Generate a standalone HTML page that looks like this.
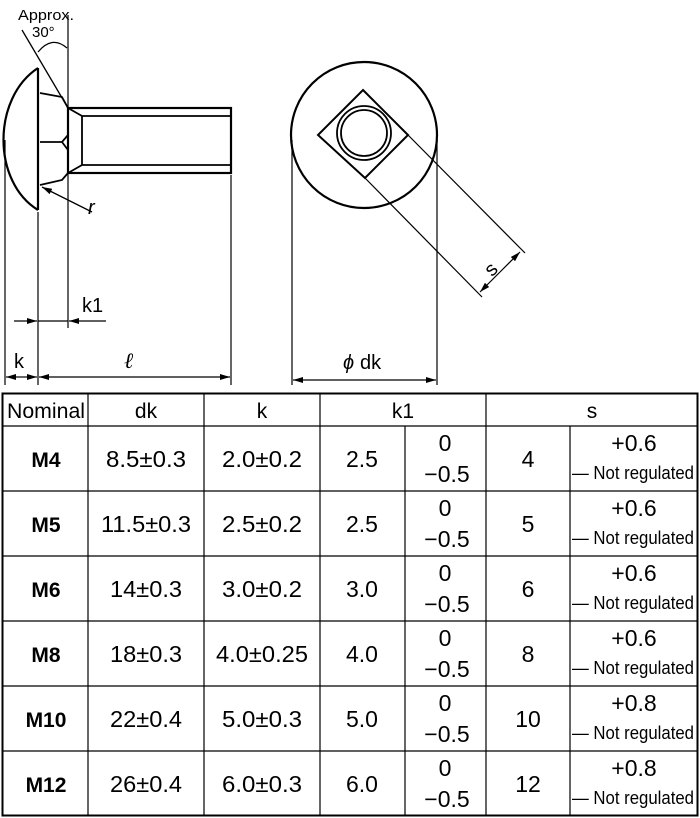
<!DOCTYPE html>
<html><head><meta charset="utf-8"><style>body{margin:0;background:#fff}svg{display:block}</style></head>
<body>
<svg width="700" height="818" viewBox="0 0 700 818" xmlns="http://www.w3.org/2000/svg" font-family="Liberation Sans, sans-serif">
<defs>
<marker id="a" markerWidth="10" markerHeight="6" refX="10" refY="3" orient="auto" markerUnits="userSpaceOnUse"><path d="M0,0 L10,3 L0,6 z" fill="#000"/></marker>
</defs>
<g fill="none" stroke="#000">
<path d="M38,68 C-8,98 -8,182 38,210" stroke-width="2.2"/>
<line x1="38" y1="68" x2="38" y2="210" stroke-width="2.2"/>
<path d="M40,93 L62,97 L68,108 M40,142 L62,142 L68,135 M62,142 L68,150 M40,185 L62,180 L68,173" stroke-width="1.8"/>
<rect x="68" y="108" width="163" height="65" stroke-width="2.2"/>
<path d="M68,108 L82,116 L82,165 L68,173 M82,116 L231,116 M82,165 L231,165" stroke-width="1.8"/>
<line x1="22" y1="30" x2="68" y2="108" stroke-width="1.3"/>
<path d="M38,52 Q52,35 67,48" stroke-width="1.2"/>
<line x1="68" y1="15" x2="68" y2="328" stroke-width="1.2"/>
<line x1="5" y1="140" x2="5" y2="385" stroke-width="1.2"/>
<line x1="38" y1="212" x2="38" y2="385" stroke-width="1.2"/>
<line x1="231" y1="175" x2="231" y2="385" stroke-width="1.2"/>
<line x1="14" y1="321" x2="37" y2="321" stroke-width="1.2" marker-end="url(#a)"/>
<line x1="106" y1="321" x2="69" y2="321" stroke-width="1.2" marker-end="url(#a)"/>
<line x1="38" y1="321" x2="68" y2="321" stroke-width="1.2"/>
<line x1="21" y1="377" x2="6" y2="377" stroke-width="1.2" marker-end="url(#a)"/>
<line x1="21" y1="377" x2="37" y2="377" stroke-width="1.2" marker-end="url(#a)"/>
<line x1="130" y1="377" x2="39" y2="377" stroke-width="1.2" marker-end="url(#a)"/>
<line x1="130" y1="377" x2="230" y2="377" stroke-width="1.2" marker-end="url(#a)"/>
<line x1="92" y1="212" x2="42" y2="187" stroke-width="1.3" marker-end="url(#a)"/>
<circle cx="364" cy="135" r="73" stroke-width="2.2"/>
<path d="M363,90 L408,135 L365,178 L318,135 Z" stroke-width="2"/>
<circle cx="364" cy="133" r="27" stroke-width="1.8"/>
<circle cx="364" cy="133" r="23" stroke-width="1.8"/>
<line x1="408" y1="135" x2="525" y2="253" stroke-width="1.2"/>
<line x1="365" y1="178" x2="482" y2="297" stroke-width="1.2"/>
<line x1="500" y1="272" x2="520" y2="252" stroke-width="1.2" marker-end="url(#a)"/>
<line x1="500" y1="272" x2="480" y2="292" stroke-width="1.2" marker-end="url(#a)"/>
<line x1="292" y1="140" x2="292" y2="385" stroke-width="1.2"/>
<line x1="437" y1="140" x2="437" y2="385" stroke-width="1.2"/>
<line x1="365" y1="380" x2="293" y2="380" stroke-width="1.2" marker-end="url(#a)"/>
<line x1="365" y1="380" x2="436" y2="380" stroke-width="1.2" marker-end="url(#a)"/>
</g>
<g font-size="20" fill="#000">
<text x="18" y="20" font-size="15" textLength="56" lengthAdjust="spacingAndGlyphs">Approx.</text>
<text x="32" y="37" font-size="15">30°</text>
<text x="88" y="214" font-style="italic">r</text>
<text x="82" y="312">k1</text>
<text x="14" y="368">k</text>
<text x="124" y="368" font-style="italic" font-family="Liberation Serif, serif" font-size="22">ℓ</text>
<text x="484" y="274" transform="rotate(-45 492 266)">s</text>
<text x="343" y="369" font-style="italic">ϕ</text><text x="360" y="369">dk</text>
</g>
<g stroke="#000" fill="none">
<rect x="2.5" y="393.5" width="695" height="422" stroke-width="2"/>
<g stroke-width="1.2">
<line x1="2" y1="426" x2="698" y2="426"/>
<line x1="2" y1="491" x2="698" y2="491"/>
<line x1="2" y1="556" x2="698" y2="556"/>
<line x1="2" y1="621" x2="698" y2="621"/>
<line x1="2" y1="686" x2="698" y2="686"/>
<line x1="2" y1="751" x2="698" y2="751"/>
<line x1="88" y1="393" x2="88" y2="816"/>
<line x1="204" y1="393" x2="204" y2="816"/>
<line x1="320" y1="393" x2="320" y2="816"/>
<line x1="405" y1="426" x2="405" y2="816"/>
<line x1="486" y1="393" x2="486" y2="816"/>
<line x1="570" y1="426" x2="570" y2="816"/>
</g>
</g>
<g font-size="21" fill="#000" text-anchor="middle">
<text x="46" y="418" textLength="78" lengthAdjust="spacingAndGlyphs">Nominal</text>
<text x="146" y="418">dk</text><text x="262" y="418">k</text><text x="403" y="418">k1</text><text x="592" y="418">s</text>
</g>
<g font-size="23" fill="#000" text-anchor="middle">
<g transform="translate(0,426)">
<text x="46" y="41" font-weight="bold" font-size="21">M4</text><text x="146" y="41" textLength="80" lengthAdjust="spacingAndGlyphs">8.5±0.3</text><text x="262" y="41" textLength="80" lengthAdjust="spacingAndGlyphs">2.0±0.2</text><text x="362" y="41">2.5</text><text x="445" y="25">0</text><text x="447" y="56">−0.5</text><text x="528" y="41">4</text><text x="634" y="25">+0.6</text>
<text x="572" y="53" text-anchor="start" font-size="18" textLength="122" lengthAdjust="spacingAndGlyphs">— Not regulated</text></g>
<g transform="translate(0,491)">
<text x="46" y="41" font-weight="bold" font-size="21">M5</text><text x="146" y="41" textLength="90" lengthAdjust="spacingAndGlyphs">11.5±0.3</text><text x="262" y="41" textLength="80" lengthAdjust="spacingAndGlyphs">2.5±0.2</text><text x="362" y="41">2.5</text><text x="445" y="25">0</text><text x="447" y="56">−0.5</text><text x="528" y="41">5</text><text x="634" y="25">+0.6</text>
<text x="572" y="53" text-anchor="start" font-size="18" textLength="122" lengthAdjust="spacingAndGlyphs">— Not regulated</text></g>
<g transform="translate(0,556)">
<text x="46" y="41" font-weight="bold" font-size="21">M6</text><text x="146" y="41" textLength="72" lengthAdjust="spacingAndGlyphs">14±0.3</text><text x="262" y="41" textLength="80" lengthAdjust="spacingAndGlyphs">3.0±0.2</text><text x="362" y="41">3.0</text><text x="445" y="25">0</text><text x="447" y="56">−0.5</text><text x="528" y="41">6</text><text x="634" y="25">+0.6</text>
<text x="572" y="53" text-anchor="start" font-size="18" textLength="122" lengthAdjust="spacingAndGlyphs">— Not regulated</text></g>
<g transform="translate(0,621)">
<text x="46" y="41" font-weight="bold" font-size="21">M8</text><text x="146" y="41" textLength="72" lengthAdjust="spacingAndGlyphs">18±0.3</text><text x="262" y="41" textLength="92" lengthAdjust="spacingAndGlyphs">4.0±0.25</text><text x="362" y="41">4.0</text><text x="445" y="25">0</text><text x="447" y="56">−0.5</text><text x="528" y="41">8</text><text x="634" y="25">+0.6</text>
<text x="572" y="53" text-anchor="start" font-size="18" textLength="122" lengthAdjust="spacingAndGlyphs">— Not regulated</text></g>
<g transform="translate(0,686)">
<text x="46" y="41" font-weight="bold" font-size="21">M10</text><text x="146" y="41" textLength="72" lengthAdjust="spacingAndGlyphs">22±0.4</text><text x="262" y="41" textLength="80" lengthAdjust="spacingAndGlyphs">5.0±0.3</text><text x="362" y="41">5.0</text><text x="445" y="25">0</text><text x="447" y="56">−0.5</text><text x="528" y="41">10</text><text x="634" y="25">+0.8</text>
<text x="572" y="53" text-anchor="start" font-size="18" textLength="122" lengthAdjust="spacingAndGlyphs">— Not regulated</text></g>
<g transform="translate(0,751)">
<text x="46" y="41" font-weight="bold" font-size="21">M12</text><text x="146" y="41" textLength="72" lengthAdjust="spacingAndGlyphs">26±0.4</text><text x="262" y="41" textLength="80" lengthAdjust="spacingAndGlyphs">6.0±0.3</text><text x="362" y="41">6.0</text><text x="445" y="25">0</text><text x="447" y="56">−0.5</text><text x="528" y="41">12</text><text x="634" y="25">+0.8</text>
<text x="572" y="53" text-anchor="start" font-size="18" textLength="122" lengthAdjust="spacingAndGlyphs">— Not regulated</text></g>
</g>
</svg>
</body></html>
